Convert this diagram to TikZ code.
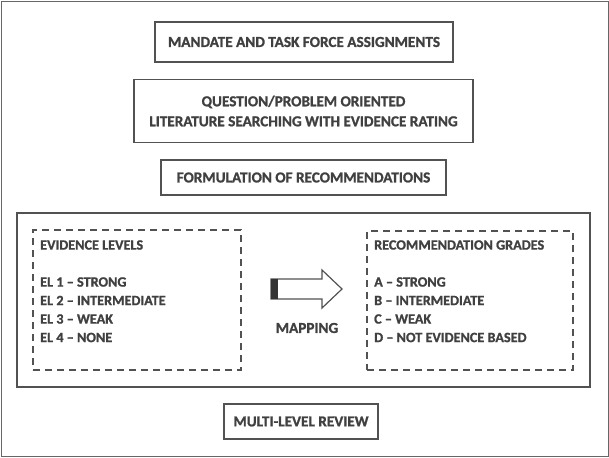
\documentclass[tikz,border=0pt]{standalone}
\usepackage{fontspec}
\setmainfont{Carlito}[BoldFont={Carlito Bold}, BoldFeatures={FakeBold=1.2}]
\begin{document}
\begin{tikzpicture}[x=1pt,y=-1pt,
  txt/.style={text=black!75, font=\fontsize{15.2}{20}\selectfont\bfseries},
  small/.style={text=black!75, font=\fontsize{14.2}{18.5}\selectfont\bfseries, anchor=west, inner sep=0pt},
  solidbox/.style={draw=black!68, line width=1.8pt, inner sep=0pt, align=center},
  dashbox/.style={draw=black!68, line width=1.8pt, dash pattern=on 7pt off 5pt, inner sep=0pt},
]
\useasboundingbox (0,0) rectangle (609,457);
\draw[black!60, line width=0.8pt] (1,1) rectangle (608,456);

\node[solidbox, txt, minimum width=298pt, minimum height=40pt] (b1) at (304,42) {MANDATE AND TASK FORCE ASSIGNMENTS};
\node[solidbox, txt, minimum width=339pt, minimum height=63pt] (b2) at (303.5,111) {QUESTION/PROBLEM ORIENTED\\LITERATURE SEARCHING WITH EVIDENCE RATING};
\node[solidbox, txt, minimum width=285pt, minimum height=35pt] (b3) at (303.5,177.5) {FORMULATION OF RECOMMENDATIONS};

\node[solidbox, minimum width=573pt, minimum height=174pt] (big) at (303.5,300) {};
\node[dashbox, minimum width=208pt, minimum height=140pt] (dl) at (137,300) {};
\node[dashbox, minimum width=206pt, minimum height=139pt] (dr) at (470,300.5) {};

\node[small] (elh) at (40,245) {EVIDENCE LEVELS};
\node[small] (el1) at (40,282) {EL 1 -- STRONG};
\node[small] (el2) at (40,300.5) {EL 2 -- INTERMEDIATE};
\node[small] (el3) at (40,319) {EL 3 -- WEAK};
\node[small] (el4) at (40,337.5) {EL 4 -- NONE};

\node[small] (rgh) at (374,245) {RECOMMENDATION GRADES};
\node[small] (rg1) at (374,282) {A -- STRONG};
\node[small] (rg2) at (374,300.5) {B -- INTERMEDIATE};
\node[small] (rg3) at (374,319) {C -- WEAK};
\node[small] (rg4) at (374,337.5) {D -- NOT EVIDENCE BASED};

\draw[black!68, line width=1.2pt, fill=white, line join=miter]
  (271,279) -- (322,279) -- (322,270) -- (342,289) -- (322,308) -- (322,299) -- (271,299) -- cycle;
\fill[black!80] (271,279) rectangle (278,299);
\node[txt] (map) at (307,328) {MAPPING};

\node[solidbox, txt, minimum width=154pt, minimum height=35pt] (b4) at (301,421.5) {MULTI-LEVEL REVIEW};
\end{tikzpicture}
\end{document}
